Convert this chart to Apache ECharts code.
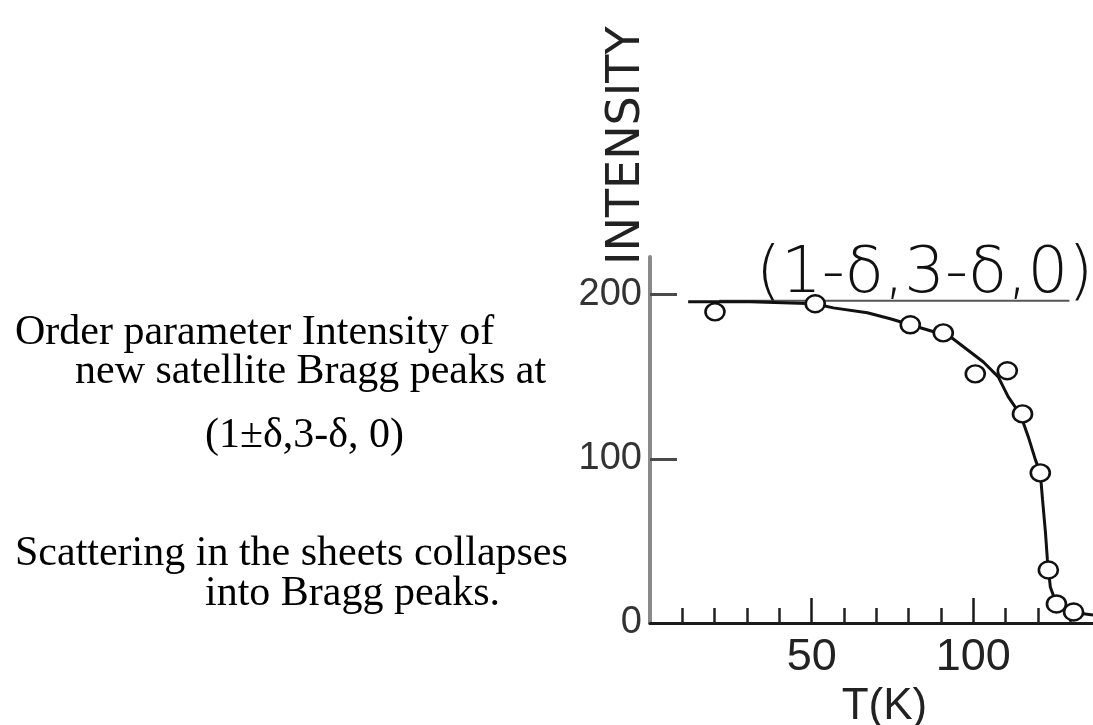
<!DOCTYPE html>
<html>
<head>
<meta charset="utf-8">
<script src="https://cdn.jsdelivr.net/npm/echarts@6/dist/echarts.min.js"></script>
<style>
  html, body { margin: 0; padding: 0; background: #ffffff; }
  #chart { width: 1093px; height: 725px; }
</style>
</head>
<body>
<div id="chart"></div>
<script>
// Measured satellite peak intensity versus temperature
const pointT = [20.1, 51.1, 80.5, 90.7, 100.6, 110.5, 115.2, 120.7, 123.2, 125.7, 131.0];
const pointI = [189.6, 194.5, 181.7, 176.8, 151.8, 153.7, 127.4, 91.5, 32.3, 11.6, 6.7];

// Hand-drawn guide curve through the data
const fitT = [11.8, 31, 51, 56.7, 67.2, 74.3, 80.5, 92.9, 103.1, 107.7, 110.8, 114.6, 117, 119.2, 120.7, 121.4, 122.3, 122.9, 123.8, 125.7, 130, 137];
const fitI = [195.7, 195.7, 194.5, 192, 189, 185.4, 181.7, 174.4, 159, 150, 137.8, 126.8, 113.4, 99.4, 91.5, 75, 55, 38.4, 22, 11.6, 6.7, 4.9];

// Saturation level line
const plateauT = [21.4, 129.7];
const plateauI = [196.3, 196.3];

// Axis ticks and labels
const xMinorTicks = [10, 20, 30, 40, 60, 70, 80, 90, 110, 120, 130];
const xMajorTicks = [50, 100];
const xLabels = [50, 100];
const yTicks = [100, 200];
const yLabels = [0, 100, 200];

// Annotation texts
const reflection = '(1-\u03b4,3-\u03b4,0)';
const noteLines = [
  'Order parameter Intensity of',
  'new satellite Bragg peaks at',
  '(1\u00b1\u03b4,3-\u03b4, 0)',
  'Scattering in the sheets collapses',
  'into Bragg peaks.'
];
const noteLeft = [15, 75, 205, 15, 205];
const noteTop = [312, 351, 415, 533, 573];

function toPairs(xs, ys) {
  return xs.map((x, i) => [x, ys[i]]);
}

const chart = echarts.init(document.getElementById('chart'), null, { renderer: 'canvas' });

const noteTitles = noteLines.map((txt, i) => ({
  text: txt,
  left: noteLeft[i],
  top: noteTop[i],
  padding: 0,
  textStyle: {
    fontFamily: 'Liberation Serif',
    fontWeight: 'normal',
    fontSize: 42,
    lineHeight: 42,
    color: '#000000'
  }
}));

const option = {
  backgroundColor: '#ffffff',
  animation: false,
  title: [
    {
      text: reflection,
      left: 756,
      top: 243,
      padding: 0,
      textStyle: {
        fontFamily: 'DejaVu Sans',
        fontWeight: 200,
        fontSize: 64,
        lineHeight: 64,
        color: '#111111'
      }
    }
  ].concat(noteTitles),
  grid: {
    left: 650,
    right: 0,
    top: 257,
    bottom: 102,
    containLabel: false,
    outerBoundsMode: 'none'
  },
  xAxis: [
    {
      type: 'value',
      min: 0,
      max: 137,
      interval: 10,
      axisLine: { show: true, lineStyle: { color: '#1a1a1a', width: 3 } },
      axisTick: {
        show: true,
        inside: true,
        length: 15,
        customValues: xMinorTicks,
        lineStyle: { color: '#222222', width: 2.5 }
      },
      axisLabel: {
        show: true,
        customValues: xLabels,
        margin: 12,
        fontFamily: 'Liberation Sans',
        fontSize: 45,
        color: '#222222'
      },
      splitLine: { show: false },
      name: 'T(K)',
      nameLocation: 'middle',
      nameGap: 58,
      nameTextStyle: {
        fontFamily: 'Liberation Sans',
        fontSize: 44,
        color: '#222222',
        padding: [0, 0, 0, 26]
      }
    },
    {
      type: 'value',
      min: 0,
      max: 137,
      position: 'bottom',
      axisLine: { show: false },
      axisTick: {
        show: true,
        inside: true,
        length: 25,
        customValues: xMajorTicks,
        lineStyle: { color: '#1a1a1a', width: 2.5 }
      },
      axisLabel: { show: false },
      splitLine: { show: false }
    }
  ],
  yAxis: {
    type: 'value',
    min: 0,
    max: 223,
    interval: 100,
    axisLine: { show: true, lineStyle: { color: '#8a8a8a', width: 4 } },
    axisTick: {
      show: true,
      inside: true,
      length: 27,
      customValues: yTicks,
      lineStyle: { color: '#4a4a4a', width: 3 }
    },
    axisLabel: {
      show: true,
      customValues: yLabels,
      margin: 8,
      fontFamily: 'Liberation Sans',
      fontSize: 38,
      color: '#333333'
    },
    splitLine: { show: false },
    name: 'INTENSITY',
    nameLocation: 'end',
    nameRotate: 90,
    nameGap: -8,
    nameTextStyle: {
      fontFamily: 'DejaVu Sans',
      fontSize: 46,
      color: '#222222',
      align: 'left',
      verticalAlign: 'bottom'
    }
  },
  series: [
    {
      name: 'plateau',
      type: 'line',
      data: toPairs(plateauT, plateauI),
      symbol: 'none',
      lineStyle: { color: '#555555', width: 2 },
      z: 1,
      silent: true
    },
    {
      name: 'guide',
      type: 'line',
      data: toPairs(fitT, fitI),
      symbol: 'none',
      smooth: false,
      lineStyle: { color: '#111111', width: 3 },
      z: 2,
      silent: true
    },
    {
      name: 'intensity',
      type: 'scatter',
      data: toPairs(pointT, pointI),
      symbol: 'circle',
      symbolSize: [19, 17],
      itemStyle: { color: '#ffffff', borderColor: '#111111', borderWidth: 2.5, opacity: 1 },
      z: 3
    }
  ]
};

chart.setOption(option);
</script>
</body>
</html>
